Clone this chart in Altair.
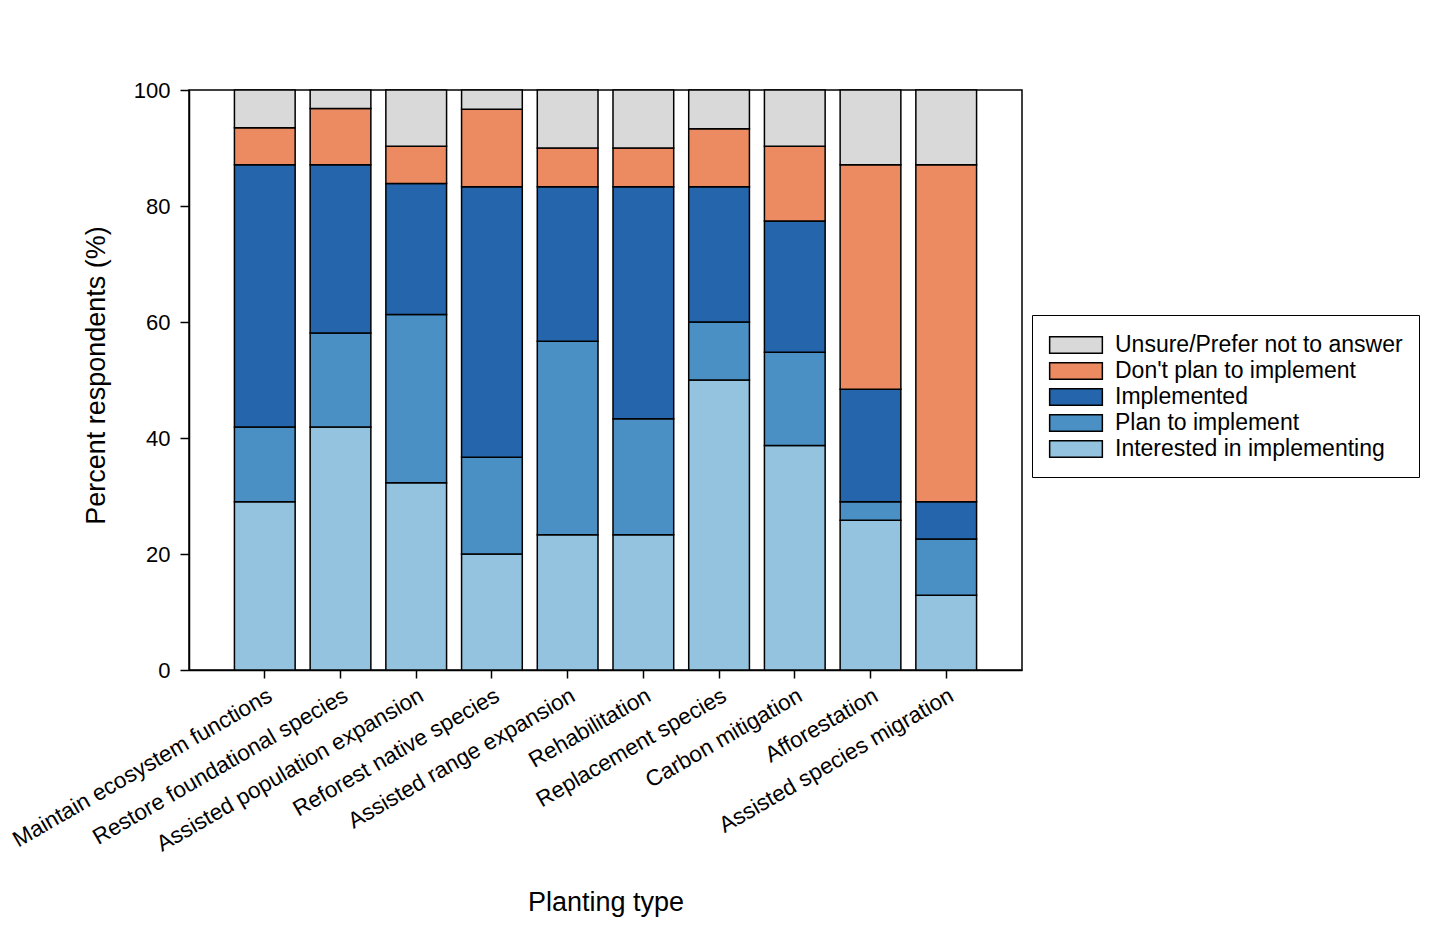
import altair as alt
import pandas as pd

planting_types = [
    "Maintain ecosystem functions",
    "Restore foundational species",
    "Assisted population expansion",
    "Reforest native species",
    "Assisted range expansion",
    "Rehabilitation",
    "Replacement species",
    "Carbon mitigation",
    "Afforestation",
    "Assisted species migration",
]

# percent of respondents per response
interested = [29.0, 41.9, 32.3, 20.0, 23.3, 23.3, 50.0, 38.7, 25.8, 12.9]
plan = [12.9, 16.2, 29.0, 16.7, 33.4, 20.0, 10.0, 16.1, 3.2, 9.7]
implemented = [45.2, 29.0, 22.6, 46.6, 26.6, 40.0, 23.3, 22.6, 19.4, 6.4]
dont_plan = [6.4, 9.7, 6.4, 13.4, 6.7, 6.7, 10.0, 12.9, 38.7, 58.1]
unsure = [6.5, 3.2, 9.7, 3.3, 10.0, 10.0, 6.7, 9.7, 12.9, 12.9]

responses = [
    "Interested in implementing",
    "Plan to implement",
    "Implemented",
    "Don't plan to implement",
    "Unsure/Prefer not to answer",
]
series = [interested, plan, implemented, dont_plan, unsure]
colors = ["#94C3DF", "#4A90C5", "#2565AC", "#EC8B61", "#D9D9D9"]

rows = []
for k, (resp, vals) in enumerate(zip(responses, series)):
    for cat, v in zip(planting_types, vals):
        rows.append({"type": cat, "response": resp, "pct": v, "rank": k})
df = pd.DataFrame(rows)

legend_order = responses[::-1]
legend_colors = colors[::-1]

# wide flat legend swatch
swatch = "M-2,-0.63L2,-0.63L2,0.63L-2,0.63Z"

chart = alt.Chart(df).mark_bar(stroke="black", strokeWidth=1.5).encode(
    x=alt.X("type:N", sort=planting_types,
            scale=alt.Scale(paddingInner=0.198, paddingOuter=0.6),
            axis=alt.Axis(title="Planting type", labelAngle=-30, labelAlign="right",
                          labelBaseline="top", labelPadding=6, labelFontSize=22.5,
                          labelLimit=400, tickSize=8, titleFontSize=27,
                          titleFontWeight="normal", titleY=240,
                          titleBaseline="alphabetic")),
    y=alt.Y("pct:Q", stack="zero",
            scale=alt.Scale(domain=[0, 100], nice=False),
            axis=alt.Axis(title="Percent respondents (%)", values=[0, 20, 40, 60, 80, 100],
                          grid=False, tickSize=9, labelPadding=10, labelFontSize=22,
                          titleFontSize=27, titleFontWeight="normal",
                          titleX=-85, titleY=285, titleBaseline="alphabetic")),
    color=alt.Color("response:N",
                    scale=alt.Scale(domain=legend_order, range=legend_colors),
                    legend=alt.Legend(title=None, orient="none", legendX=843, legendY=225,
                                      symbolType=swatch, symbolSize=694,
                                      symbolOffset=14, symbolStrokeColor="black",
                                      symbolStrokeWidth=1.5, symbolOpacity=1,
                                      labelFontSize=23, labelLimit=400, labelOffset=25,
                                      rowPadding=0, padding=16,
                                      strokeColor="black", fillColor="white")),
    order=alt.Order("rank:Q", sort="ascending"),
).properties(
    width=833,
    height=580,
    autosize=alt.AutoSizeParams(type="none"),
    padding={"left": 181, "top": 82, "right": 400, "bottom": 250},
).configure(
    font="Liberation Sans",
).configure_axis(
    domainColor="black", domainWidth=1.5, tickColor="black", tickWidth=1.5,
    labelColor="black", titleColor="black",
).configure_view(
    stroke="black", strokeWidth=1.5,
)

chart.save("out.html", embed_options={"renderer": "svg", "actions": False})
